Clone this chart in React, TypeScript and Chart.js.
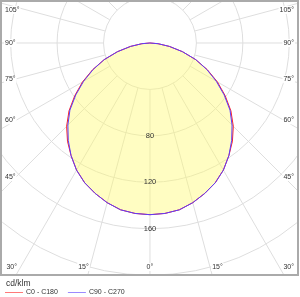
import React, { useEffect, useRef } from 'react';
import { Chart, registerables } from 'chart.js';

Chart.register(...registerables);

// Gamma angles (degrees from nadir) and luminous intensity (cd/klm)
const gammaAngles = [0, 5, 10, 15, 20, 25, 30, 35, 40, 45, 50, 55, 60, 65, 70, 75, 80, 85, 90];
const c0c180 = [148, 147.5, 146, 142.5, 138, 133, 126.5, 118.5, 110.5, 101.5, 91, 79, 67, 54.5, 42, 29, 17, 7, 0];
const c90c270 = [148, 147.5, 146, 142.5, 138, 133, 126.5, 118.5, 109.5, 100, 90, 78, 66, 54, 42, 29, 17, 7, 0];

const seriesNames = ['C0 - C180', 'C90 - C270'];
const seriesColors = ['#ff2020', '#5a3cff'];
const unitLabel = 'cd/klm';

const ringValues = [40, 80, 120, 160, 200, 240, 280];
const ringLabelValues = [80, 120, 160];
const angleLabelValues = [0, 15, 30, 45, 60, 75, 90, 105];
const rayStepDeg = 15;

const FONT = '"Liberation Sans", Arial, sans-serif';
const TEXT = '#333';

function toPoints(values: number[]) {
  const pts: { x: number; y: number }[] = [];
  for (let i = gammaAngles.length - 1; i >= 0; i--) {
    const a = (gammaAngles[i] * Math.PI) / 180;
    pts.push({ x: -values[i] * Math.sin(a), y: -values[i] * Math.cos(a) });
  }
  for (let i = 1; i < gammaAngles.length; i++) {
    const a = (gammaAngles[i] * Math.PI) / 180;
    pts.push({ x: values[i] * Math.sin(a), y: -values[i] * Math.cos(a) });
  }
  return pts;
}

const polarPlugin = {
  id: 'polarGrid',
  beforeDatasetsDraw(chart: any) {
    const { ctx, chartArea: ca, scales } = chart;
    const cx = scales.x.getPixelForValue(0);
    const cy = scales.y.getPixelForValue(0);
    const k = scales.x.getPixelForValue(1) - cx;
    ctx.save();
    ctx.beginPath();
    ctx.rect(ca.left, ca.top, ca.right - ca.left, ca.bottom - ca.top);
    ctx.clip();
    ctx.strokeStyle = '#dedede';
    ctx.lineWidth = 1;
    for (const v of ringValues) {
      ctx.beginPath();
      ctx.arc(cx, cy, v * k, 0, Math.PI * 2);
      ctx.stroke();
    }
    const r0 = ringValues[0] * k;
    const r1 = 1000;
    for (let d = 0; d < 360; d += rayStepDeg) {
      const a = (d * Math.PI) / 180;
      const sx = Math.sin(a), sy = Math.cos(a);
      ctx.beginPath();
      ctx.moveTo(cx + sx * r0, cy + sy * r0);
      ctx.lineTo(cx + sx * r1, cy + sy * r1);
      ctx.stroke();
    }
    // light-yellow fill of the distribution
    const meta = chart.getDatasetMeta(0);
    const pts = meta.data;
    ctx.beginPath();
    pts.forEach((p: any, i: number) => (i === 0 ? ctx.moveTo(p.x, p.y) : ctx.lineTo(p.x, p.y)));
    ctx.closePath();
    ctx.fillStyle = 'rgba(255, 250, 110, 0.42)';
    ctx.fill();
    ctx.restore();
  },
  afterDraw(chart: any) {
    const { ctx, chartArea: ca, scales } = chart;
    const cx = scales.x.getPixelForValue(0);
    const cy = scales.y.getPixelForValue(0);
    const k = scales.x.getPixelForValue(1) - cx;
    ctx.save();
    // ring labels
    ctx.font = `7.5px ${FONT}`;
    ctx.fillStyle = TEXT;
    ctx.textAlign = 'center';
    ctx.textBaseline = 'middle';
    for (const v of ringLabelValues) {
      ctx.fillText(String(v), cx, cy + v * k);
    }
    // border
    ctx.strokeStyle = '#aaaaaa';
    ctx.lineWidth = 2;
    ctx.strokeRect(ca.left, ca.top, ca.right - ca.left, ca.bottom - ca.top);

    // angle labels
    ctx.font = `7px ${FONT}`;
    const labelBottomY = ca.bottom - 8;
    for (const d of angleLabelValues) {
      const a = (d * Math.PI) / 180;
      const txt = `${d}°`;
      const w = ctx.measureText(txt).width;
      const hitBottomDx = (ca.bottom - cy) * Math.tan(a);
      const drawLabel = (x: number, y: number, align: 'left' | 'right' | 'center') => {
        const lx = align === 'left' ? x : align === 'right' ? x - w : x - w / 2;
        ctx.fillStyle = '#ffffff';
        ctx.fillRect(lx - 1, y - 4, w + 2, 8);
        ctx.fillStyle = TEXT;
        ctx.textAlign = align;
        ctx.fillText(txt, x, y);
      };
      if (d === 0) {
        drawLabel(cx, labelBottomY, 'center');
      } else if (d < 90 && cx - hitBottomDx >= ca.left + 4) {
        const lxL = cx - hitBottomDx + 1;
        const lxR = Math.min(cx + hitBottomDx, ca.right - 4 - w);
        drawLabel(lxL, labelBottomY, 'right');
        drawLabel(lxR, labelBottomY, 'left');
      } else {
        const dx = cx - (ca.left + 15);
        let y = cy + (dx / Math.sin(a)) * Math.cos(a);
        y = Math.max(y, ca.top + 9);
        drawLabel(ca.left + 4, y, 'left');
        drawLabel(ca.right - 4, y, 'right');
      }
    }

    // legend
    ctx.textAlign = 'left';
    ctx.textBaseline = 'middle';
    ctx.fillStyle = TEXT;
    ctx.font = `8.5px ${FONT}`;
    ctx.fillText(unitLabel, 6, 284);
    ctx.font = `7px ${FONT}`;
    let x = 5;
    seriesNames.forEach((name, i) => {
      ctx.strokeStyle = seriesColors[i];
      ctx.lineWidth = 1;
      ctx.globalAlpha = 0.6;
      ctx.beginPath();
      ctx.moveTo(x, 292.5);
      ctx.lineTo(x + 18, 292.5);
      ctx.stroke();
      ctx.globalAlpha = 1;
      ctx.fillStyle = TEXT;
      ctx.fillText(name, x + 21, 292.5);
      x += 21 + ctx.measureText(name).width + 10;
    });
    ctx.restore();
  },
};

export default function App() {
  const canvasRef = useRef<HTMLCanvasElement | null>(null);
  useEffect(() => {
    if (!canvasRef.current) return;
    const chart = new Chart(canvasRef.current, {
      type: 'scatter',
      data: {
        datasets: [
          {
            label: seriesNames[0],
            data: toPoints(c0c180),
            showLine: true,
            borderColor: seriesColors[0],
            borderWidth: 1,
            pointRadius: 0,
            fill: false,
            tension: 0,
            order: 2,
          },
          {
            label: seriesNames[1],
            data: toPoints(c90c270),
            showLine: true,
            borderColor: seriesColors[1],
            borderWidth: 1,
            pointRadius: 0,
            fill: false,
            tension: 0,
            order: 1,
          },
        ],
      },
      options: {
        animation: false,
        responsive: true,
        maintainAspectRatio: false,
        layout: { padding: { left: 1, top: 1, right: 2, bottom: 22 } },
        plugins: { legend: { display: false }, tooltip: { enabled: false } },
        scales: {
          x: { type: 'linear', min: -128.3, max: 127.5, display: false },
          y: { type: 'linear', min: -200, max: 36.2, display: false },
        },
      },
      plugins: [polarPlugin],
    });
    return () => chart.destroy();
  }, []);
  return (
    <div style={{ position: 'absolute', left: 0, top: 0, width: 300, height: 297, background: '#fff' }}>
      <canvas ref={canvasRef} />
    </div>
  );
}
